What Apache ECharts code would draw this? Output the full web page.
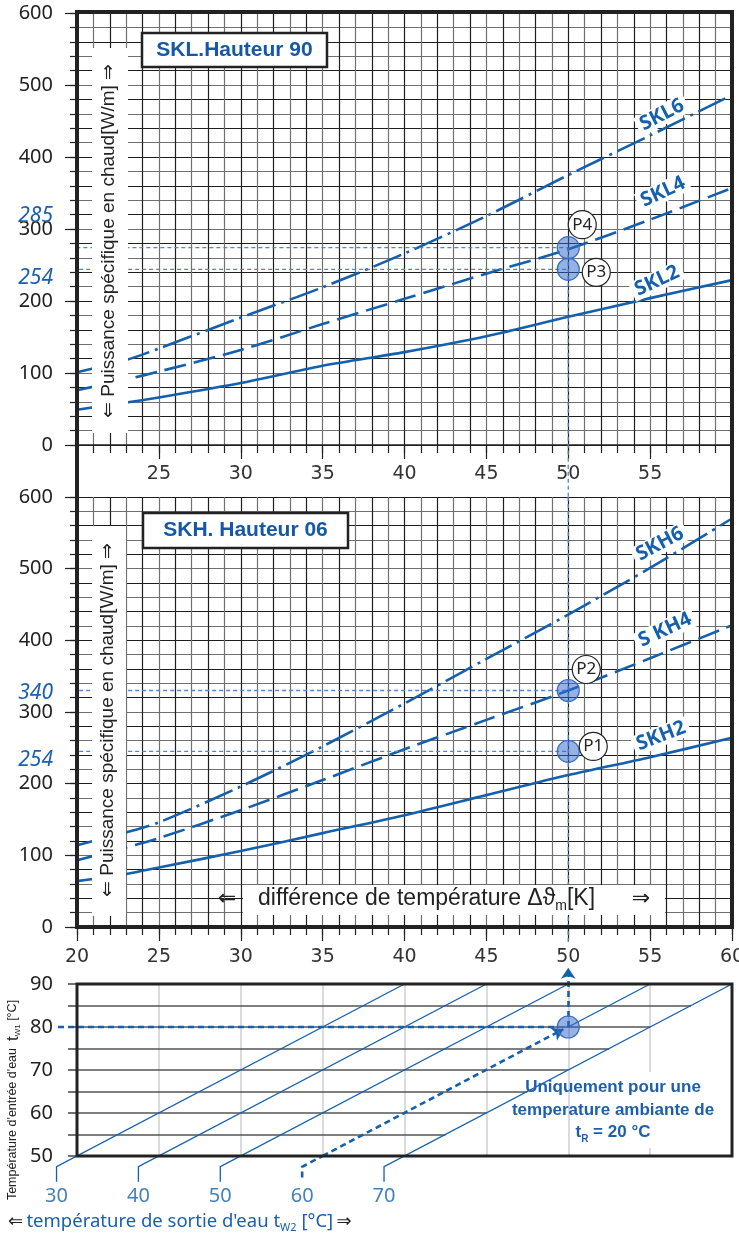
<!DOCTYPE html>
<html><head><meta charset="utf-8">
<script src="https://cdn.jsdelivr.net/npm/echarts@6/dist/echarts.min.js"></script>
<style>html,body{margin:0;padding:0;background:#fff}#c{width:739px;height:1235px}</style>
</head><body><div id="c"></div>
<script>
// ---------- data ----------
const deltaT = [20, 23, 25, 30, 35, 40, 45, 50, 55, 60];
const skl2 = [49, 59, 66, 86, 110, 129, 151, 178, 204, 229];
const skl4 = [76, 91, 102, 132, 168, 203, 238, 272, 313, 357];
const skl6 = [101, 118, 134, 177, 219, 266, 318, 375, 430, 486];
const skh2 = [64, 74, 83, 106, 131, 156, 184, 212, 237, 264];
const skh4 = [93, 111, 124, 163, 205, 248, 289, 330, 375, 421];
const skh6 = [114, 132, 146, 196, 252, 312, 374, 436, 501, 570];
const pointDeltaT = 50;
const topPointNames = ['P4', 'P3'];
const topPointValues = [274, 244];
const topPointLabels = ['285', '254'];
const midPointNames = ['P2', 'P1'];
const midPointValues = [330, 245];
const midPointLabels = ['340', '254'];
const outletTemps = [30, 40, 50, 60, 70];
const inletGridTemps = [55, 60, 65, 70, 75, 80, 85];
const roomTemp = 20;
const chosenInlet = 80;
const chosenOutlet = 60;
const powerTicks = [0, 100, 200, 300, 400, 500, 600];
const deltaTicksTop = [25, 30, 35, 40, 45, 50, 55];
const deltaTicksMid = [20, 25, 30, 35, 40, 45, 50, 55, 60];
const inletTicks = [50, 60, 70, 80, 90];

// ---------- helpers ----------
const BLUE = '#1560ae';
const REF = '#4f86cc';
const dT = (tin, tout) => (tin + tout) / 2 - roomTemp;
const gridColors = ['#1e1e1e', '#707070'];

function minorX(gi, showLine) {
  return {type: 'value', gridIndex: gi, min: 20, max: 60, interval: 1, position: 'bottom',
    axisLine: {show: showLine, onZero: false, lineStyle: {color: '#222', width: 1.6}},
    axisTick: {show: true, length: 8, lineStyle: {color: '#222', width: 1.2}},
    axisLabel: {show: false}, splitLine: {show: true, lineStyle: {color: gridColors, width: 1.2}}};
}
function majorX(gi, ticks, margin) {
  return {type: 'value', gridIndex: gi, min: 20, max: 60, interval: 5, position: 'bottom',
    axisLine: {show: false, onZero: false},
    axisTick: {show: true, length: 14, lineStyle: {color: '#222', width: 1.2}},
    axisLabel: {show: true, margin: margin, fontSize: 19, fontFamily: 'DejaVu Sans', color: '#333',
      showMinLabel: true, showMaxLabel: true, hideOverlap: false,
      formatter: v => ticks.includes(v) ? String(v) : ''},
    splitLine: {show: false}};
}
function minorY(gi) {
  return {type: 'value', gridIndex: gi, min: 0, max: 600, interval: 20, position: 'left',
    axisLine: {show: false, onZero: false},
    axisTick: {show: true, length: 7, lineStyle: {color: '#222', width: 1.2}},
    axisLabel: {show: false}, splitLine: {show: true, lineStyle: {color: gridColors, width: 1.2}}};
}
function majorY(gi) {
  return {type: 'value', gridIndex: gi, min: 0, max: 600, interval: 100, position: 'left',
    axisLine: {show: false, onZero: false},
    axisTick: {show: true, length: 12, lineStyle: {color: '#222', width: 1.2}},
    axisLabel: {margin: 24, fontSize: 20, fontFamily: 'Noto Sans', color: '#222',
      formatter: v => powerTicks.includes(v) ? String(v) : ''},
    splitLine: {show: false}};
}

const series = [];
const DASH = [22, 8];
const DASHDOT = [30, 6, 3, 6];
function addCurve(vals, dash, xi, yi) {
  series.push({type: 'line', xAxisIndex: xi, yAxisIndex: yi, silent: true, animation: false,
    data: deltaT.map((x, i) => [x, vals[i]]), smooth: 0.3, symbol: 'none',
    lineStyle: {color: BLUE, width: 2.6, type: dash, cap: 'butt'}, z: 3});
}
function addPath(coords, style, xi, yi, z) {
  series.push({type: 'line', xAxisIndex: xi, yAxisIndex: yi, silent: true, animation: false,
    data: coords, symbol: 'none', clip: false, lineStyle: style, z: z || 4});
}
function addPoints(names, vals, offsets, xi, yi) {
  series.push({type: 'scatter', xAxisIndex: xi, yAxisIndex: yi, silent: true, animation: false, clip: false,
    data: vals.map(v => [pointDeltaT, v]), symbolSize: 22,
    itemStyle: {color: 'rgba(45,100,200,0.5)', borderColor: '#3a6fc2', borderWidth: 1.2, opacity: 1}, z: 6});
  series.push({type: 'scatter', xAxisIndex: xi, yAxisIndex: yi, silent: true, animation: false, clip: false,
    data: vals.map((v, i) => ({value: [pointDeltaT, v], name: names[i], symbolOffset: offsets[i]})),
    symbolSize: 28, itemStyle: {color: '#fff', borderColor: '#222', borderWidth: 1.2, opacity: 1},
    label: {show: true, position: 'inside', formatter: '{b}', color: '#222', fontSize: 17, fontFamily: 'Noto Sans'}, z: 7});
}
const refStyle = {color: REF, width: 1.3, type: [4, 3]};

// top panel (SKL)
addCurve(skl2, 'solid', 0, 0);
addCurve(skl4, DASH, 0, 0);
addCurve(skl6, DASHDOT, 0, 0);
addPath([[18.66, 302], [19.15, topPointValues[0]], [pointDeltaT, topPointValues[0]]], refStyle, 0, 0);
addPath([[18.85, topPointValues[1]], [pointDeltaT, topPointValues[1]]], refStyle, 0, 0);
addPath([[pointDeltaT, topPointValues[0]], [pointDeltaT, -72]], refStyle, 0, 0);
addPoints(topPointNames, topPointValues, [[14, -23], [28, 3]], 0, 0);

// middle panel (SKH)
addCurve(skh2, 'solid', 2, 2);
addCurve(skh4, DASH, 2, 2);
addCurve(skh6, DASHDOT, 2, 2);
addPath([[18.85, midPointValues[0]], [pointDeltaT, midPointValues[0]]], refStyle, 2, 2);
addPath([[18.85, midPointValues[1]], [pointDeltaT, midPointValues[1]]], refStyle, 2, 2);
addPath([[pointDeltaT, 600], [pointDeltaT, -21]], refStyle, 2, 2);
addPoints(midPointNames, midPointValues, [[18, -21], [25, -5]], 2, 2);

// bottom panel (water temperatures)
const leaderTop = 47.5, leaderBottom = 44, labelY = 40.6;
series.push({type: 'lines', coordinateSystem: 'cartesian2d', xAxisIndex: 4, yAxisIndex: 4, silent: true, animation: false,
  clip: false, polyline: false, z: 3,
  lineStyle: {color: '#555', width: 1.5, opacity: 1},
  data: inletGridTemps.map(t => ({coords: [[20, t], [dT(t, outletTemps[outletTemps.length - 1]), t]]}))});
series.push({type: 'lines', coordinateSystem: 'cartesian2d', xAxisIndex: 4, yAxisIndex: 4, silent: true, animation: false,
  clip: false, polyline: true, z: 4,
  lineStyle: {color: BLUE, width: 1.3, opacity: 1},
  data: outletTemps.filter(t => t !== chosenOutlet).map(t => ({coords: [
    [dT(leaderTop, t), leaderBottom], [dT(leaderTop, t), leaderTop], [dT(90, t), 90]]}))
    .concat([{coords: [[pointDeltaT, chosenInlet], [dT(90, chosenOutlet), 90]]}])});
const thickDash = {color: BLUE, width: 2.6, type: [6, 4], opacity: 1};
series.push({type: 'lines', coordinateSystem: 'cartesian2d', xAxisIndex: 4, yAxisIndex: 4, silent: true, animation: false,
  clip: false, polyline: true, z: 5, lineStyle: thickDash,
  data: [{coords: [[dT(leaderTop, chosenOutlet), leaderBottom + 1], [dT(leaderTop, chosenOutlet), leaderTop], [dT(50, chosenOutlet), 50]]},
         {coords: [[18.84, chosenInlet], [pointDeltaT - 0.6, chosenInlet]]}]});
series.push({type: 'lines', coordinateSystem: 'cartesian2d', xAxisIndex: 4, yAxisIndex: 4, silent: true, animation: false,
  clip: false, z: 5, lineStyle: thickDash, symbol: ['none', 'arrow'], symbolSize: 11,
  data: [{coords: [[dT(50, chosenOutlet), 50], [pointDeltaT - 0.3, chosenInlet - 0.5]]},
         {coords: [[pointDeltaT, chosenInlet], [pointDeltaT, 93.8]]}]});
series.push({type: 'scatter', xAxisIndex: 4, yAxisIndex: 4, silent: true, animation: false, clip: false,
  data: [[pointDeltaT, chosenInlet]], symbolSize: 22,
  itemStyle: {color: 'rgba(45,100,200,0.5)', borderColor: '#3a6fc2', borderWidth: 1.2, opacity: 1}, z: 6});
series.push({type: 'scatter', xAxisIndex: 4, yAxisIndex: 4, silent: true, animation: false, clip: false,
  data: outletTemps.map(t => [dT(leaderTop, t), labelY, t]), symbolSize: 1,
  itemStyle: {color: 'rgba(0,0,0,0)'},
  label: {show: true, position: 'inside', formatter: p => String(p.data[2]), color: BLUE, fontSize: 20, fontFamily: 'Noto Sans'}, z: 6});

// ---------- graphic annotations ----------
function txt(o) { return Object.assign({type: 'text', z: 60, silent: true}, o); }
function curveLabel(text, x, y, deg) {
  return txt({x: x, y: y, rotation: deg * Math.PI / 180, style: {text: text, fontSize: 20, fontWeight: 'bold',
    fontFamily: 'Noto Sans', fill: BLUE, textAlign: 'center', align: 'center', textVerticalAlign: 'middle', verticalAlign: 'middle',
    backgroundColor: '#fff', padding: [0, 4]}});
}
function leftLabel(text, y) {
  return txt({x: 53, y: y, style: {text: text, fontSize: 21, fontStyle: 'italic', fontFamily: 'Noto Sans', fill: '#1a5fb0',
    textAlign: 'right', align: 'right', textVerticalAlign: 'middle', verticalAlign: 'middle'}});
}
const graphic = [
  // y-axis name boxes
  {type: 'rect', shape: {x: 92, y: 48, width: 36, height: 385}, style: {fill: '#fff'}, z: 50, silent: true},
  txt({x: 109, y: 241, rotation: Math.PI / 2, style: {text: '⇐ Puissance spécifique en chaud[W/m] ⇒', fontSize: 19,
    fontFamily: 'Liberation Sans', fill: '#222', textAlign: 'center', align: 'center', textVerticalAlign: 'middle', verticalAlign: 'middle'}}),
  {type: 'rect', shape: {x: 92, y: 526, width: 34, height: 390}, style: {fill: '#fff'}, z: 50, silent: true},
  txt({x: 108, y: 720, rotation: Math.PI / 2, style: {text: '⇐ Puissance spécifique en chaud[W/m] ⇒', fontSize: 19,
    fontFamily: 'Liberation Sans', fill: '#222', textAlign: 'center', align: 'center', textVerticalAlign: 'middle', verticalAlign: 'middle'}}),
  // x-axis name
  {type: 'rect', shape: {x: 243, y: 885, width: 422, height: 30}, style: {fill: '#fff'}, z: 50, silent: true},
  txt({x: 227, y: 899, style: {text: '⇐', fontSize: 22, fontFamily: 'DejaVu Sans', fill: '#222', textAlign: 'center', align: 'center', textVerticalAlign: 'middle', verticalAlign: 'middle'}}),
  txt({x: 258, y: 899, style: {text: '{a|différence de température Δϑ}{b|m}{a|[K]}',
    textAlign: 'left', align: 'left', textVerticalAlign: 'middle', verticalAlign: 'middle',
    rich: {a: {fontSize: 23, fontFamily: 'Liberation Sans', fill: '#222', color: '#222', lineHeight: 28, verticalAlign: 'middle'},
           b: {fontSize: 14, fontFamily: 'Liberation Sans', fill: '#222', color: '#222', lineHeight: 14, verticalAlign: 'bottom'}}}}),
  txt({x: 641, y: 899, style: {text: '⇒', fontSize: 22, fontFamily: 'DejaVu Sans', fill: '#222', textAlign: 'center', align: 'center', textVerticalAlign: 'middle', verticalAlign: 'middle'}}),
  // title boxes
  {type: 'rect', shape: {x: 142, y: 33, width: 185, height: 34}, style: {fill: '#fff', stroke: '#222', lineWidth: 2.5}, z: 55, silent: true},
  txt({x: 234.5, y: 50, style: {text: 'SKL.Hauteur 90', fontSize: 21, fontWeight: 'bold', fontFamily: 'Liberation Sans', fill: '#1458a6',
    textAlign: 'center', align: 'center', textVerticalAlign: 'middle', verticalAlign: 'middle'}}),
  {type: 'rect', shape: {x: 143, y: 513, width: 205, height: 35}, style: {fill: '#fff', stroke: '#222', lineWidth: 2.5}, z: 55, silent: true},
  txt({x: 245.5, y: 530.5, style: {text: 'SKH. Hauteur 06', fontSize: 21, fontWeight: 'bold', fontFamily: 'Liberation Sans', fill: '#1458a6',
    textAlign: 'center', align: 'center', textVerticalAlign: 'middle', verticalAlign: 'middle'}}),
  // curve labels
  curveLabel('SKL6', 662, 115, 27),
  curveLabel('SKL4', 663, 192, 25),
  curveLabel('SKL2', 657, 281, 25),
  curveLabel('SKH6', 660, 544, 28),
  curveLabel('S KH4', 665, 630, 25),
  curveLabel('SKH2', 661, 736, 21),
  // reading labels
  leftLabel(topPointLabels[0], 216),
  leftLabel(topPointLabels[1], 278),
  leftLabel(midPointLabels[0], 693),
  leftLabel(midPointLabels[1], 760),
  // bottom panel texts
  {type: 'rect', shape: {x: 646, y: 1072, width: 8, height: 76}, style: {fill: '#fff'}, z: 40, silent: true},
  txt({x: 613, y: 1110, style: {text: 'Uniquement pour une\ntemperature ambiante de\n{x|t}{s|R}{x| = 20 °C}',
    fontSize: 17, fontWeight: 'bold', fontFamily: 'Liberation Sans', fill: '#1d5fae', lineHeight: 22.5,
    textAlign: 'center', align: 'center', textVerticalAlign: 'middle', verticalAlign: 'middle',
    rich: {x: {fontSize: 17, fontWeight: 'bold', fontFamily: 'Liberation Sans', fill: '#1d5fae', color: '#1d5fae', lineHeight: 22.5, verticalAlign: 'middle'},
           s: {fontSize: 10, fontWeight: 'bold', fontFamily: 'Liberation Sans', fill: '#1d5fae', color: '#1d5fae', lineHeight: 14, verticalAlign: 'bottom'}}}}),
  txt({x: 13, y: 1100, rotation: Math.PI / 2, style: {text: "{a|Température d'entrée d'eau  }{t|t}{s|W1}{a| [°C]}",
    textAlign: 'center', align: 'center', textVerticalAlign: 'middle', verticalAlign: 'middle',
    rich: {a: {fontSize: 12.5, fontFamily: 'Liberation Sans', fill: '#222', color: '#222', lineHeight: 18, verticalAlign: 'middle'},
           t: {fontSize: 17, fontFamily: 'Liberation Sans', fill: '#222', color: '#222', lineHeight: 18, verticalAlign: 'middle'},
           s: {fontSize: 8, fontFamily: 'Liberation Sans', fill: '#222', color: '#222', lineHeight: 10, verticalAlign: 'bottom'}}}}),
  txt({x: 8, y: 1222, style: {text: "{k|⇐} {b|température de sortie d'eau t}{s|W2}{b| [°C]} {k|⇒}",
    textAlign: 'left', align: 'left', textVerticalAlign: 'middle', verticalAlign: 'middle',
    rich: {k: {fontSize: 18, fontFamily: 'DejaVu Sans', fill: '#222', color: '#222', lineHeight: 22, verticalAlign: 'middle'},
           b: {fontSize: 18.5, fontFamily: 'Noto Sans', fill: '#1a5fb0', color: '#1a5fb0', lineHeight: 22, verticalAlign: 'middle'},
           s: {fontSize: 11, fontFamily: 'Noto Sans', fill: '#1a5fb0', color: '#1a5fb0', lineHeight: 14, verticalAlign: 'bottom'}}}}),
  // frames
  {type: 'rect', shape: {x: 77, y: 984, width: 655, height: 172}, style: {fill: 'none', stroke: '#222', lineWidth: 3}, z: 200, silent: true},
  {type: 'rect', shape: {x: 77, y: 12, width: 655, height: 915}, style: {fill: 'none', stroke: '#222', lineWidth: 4}, z: 200, silent: true}
];

const option = {
  animation: false,
  backgroundColor: '#fff',
  grid: [
    {left: 77, top: 13, width: 655, height: 432, outerBoundsMode: 'none', containLabel: false},
    {left: 77, top: 497, width: 655, height: 430, outerBoundsMode: 'none', containLabel: false},
    {left: 77, top: 984, width: 655, height: 172, outerBoundsMode: 'none', containLabel: false}
  ],
  xAxis: [
    minorX(0, true), majorX(0, deltaTicksTop, 20),
    minorX(1, false), majorX(1, deltaTicksMid, 21),
    {type: 'value', gridIndex: 2, min: 20, max: 60, interval: 5, position: 'bottom',
      axisLine: {show: false, onZero: false}, axisTick: {show: false}, axisLabel: {show: false},
      splitLine: {show: true, showMinLine: false, showMaxLine: false, lineStyle: {color: '#cfcfcf', width: 1.5}}}
  ],
  yAxis: [
    minorY(0), majorY(0), minorY(1), majorY(1),
    {type: 'value', gridIndex: 2, min: 50, max: 90, interval: 5, position: 'left',
      axisLine: {show: false, onZero: false},
      axisTick: {show: true, length: 9, lineStyle: {color: '#444', width: 1.5}},
      axisLabel: {margin: 24, fontSize: 20, fontFamily: 'Noto Sans', color: '#222',
        formatter: v => inletTicks.includes(v) ? String(v) : ''},
      splitLine: {show: false}}
  ],
  series: series,
  graphic: graphic
};
const chart = echarts.init(document.getElementById('c'), null, {renderer: 'canvas'});
chart.setOption(option);
</script></body></html>
